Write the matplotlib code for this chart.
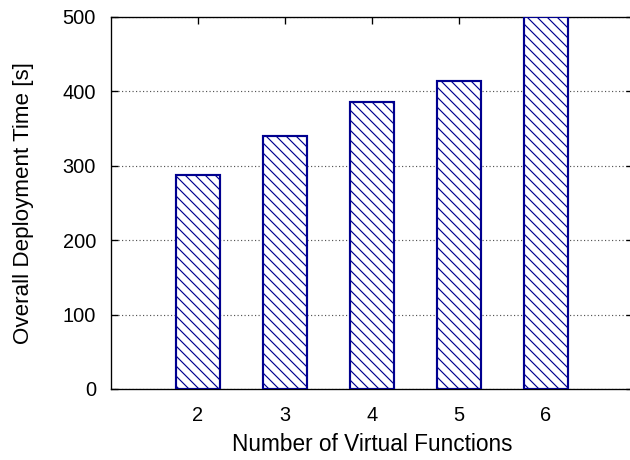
import matplotlib
matplotlib.use("Agg")
import matplotlib.pyplot as plt

plt.rcParams['font.family'] = ['Liberation Sans', 'DejaVu Sans']
plt.rcParams['hatch.linewidth'] = 0.7
plt.rcParams['hatch.color'] = '#2020a8'

# Deployment time versus number of virtual functions
num_vfs = [2, 3, 4, 5, 6]
deploy_time = [288, 340, 386, 414, 500]
y_ticks = [0, 100, 200, 300, 400, 500]

DPI = 120
fig = plt.figure(figsize=(630 / DPI, 460 / DPI), dpi=DPI)
ax = fig.add_axes([111 / 630, 71 / 460, 522 / 630, 372 / 460])

ax.bar(num_vfs, deploy_time, width=0.5, facecolor='white',
       edgecolor='#00008f', linewidth=1.3, hatch='\\\\\\\\', zorder=3)

ax.set_xlim(1, 7)
ax.set_ylim(0, 500)
ax.set_xticks(num_vfs)
ax.set_yticks(y_ticks)

ax.yaxis.grid(True, color='#555555', linestyle=(0, (1, 2)), linewidth=0.7, zorder=1)
ax.set_axisbelow(True)

ax.tick_params(axis='both', direction='in', length=4, width=0.8,
               top=True, right=True, labelsize=12, colors='black')
ax.tick_params(axis='x', pad=10)
ax.tick_params(axis='y', pad=9)

for sp in ax.spines.values():
    sp.set_linewidth(0.8)
    sp.set_color('black')

ax.set_xlabel('Number of Virtual Functions', fontsize=13.6, labelpad=5)
ax.set_ylabel('Overall Deployment Time [s]', fontsize=13.4, labelpad=17)

fig.savefig('out.png', dpi=DPI)
